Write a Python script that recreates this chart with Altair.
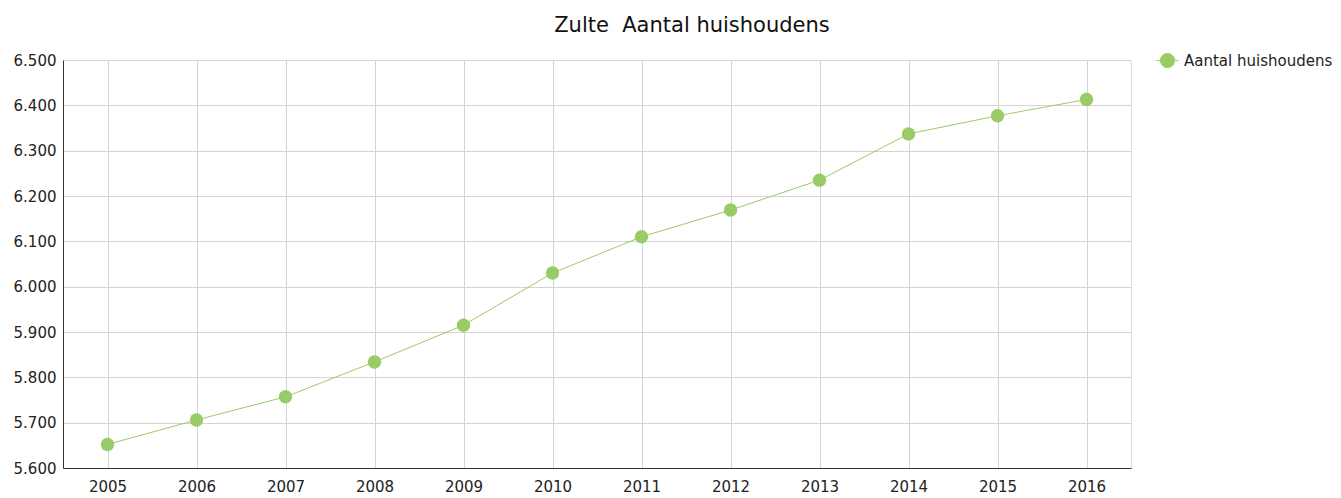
import altair as alt
import pandas as pd

years = ["2005", "2006", "2007", "2008", "2009", "2010", "2011", "2012", "2013", "2014", "2015", "2016"]
households = [5652, 5706, 5757, 5834, 5915, 6030, 6110, 6169, 6235, 6337, 6377, 6413]
series_name = "Aantal huishoudens"
y_ticks = [5600, 5700, 5800, 5900, 6000, 6100, 6200, 6300, 6400, 6500]

df = pd.DataFrame({"jaar": years, "waarde": households, "reeks": [series_name] * len(years)})

green = "#99cc66"
font = "DejaVu Sans"

legend_symbol = "M-1,0L-0.64,0M0.64,0L1,0M0.64,0A0.64,0.64,0,1,1,-0.64,0A0.64,0.64,0,1,1,0.64,0Z"

base = alt.Chart(df).encode(
    x=alt.X("jaar:O", sort=years, title=None,
            scale=alt.Scale(type="point", padding=0.5),
            axis=alt.Axis(labelAngle=0, grid=True, gridColor="#d4d4d4", domainColor="#333333",
                          ticks=False, labelPadding=11, labelFontSize=15, labelFont=font,
                          labelColor="#222222")),
    y=alt.Y("waarde:Q", title=None,
            scale=alt.Scale(domain=[5600, 6500], nice=False, zero=False),
            axis=alt.Axis(values=y_ticks, grid=True, gridColor="#d4d4d4", domainColor="#333333",
                          ticks=False, labelPadding=7, labelFontSize=15, labelFont=font,
                          labelColor="#222222",
                          labelExpr="replace(format(datum.value, ',.0f'), ',', '.')")),
    color=alt.Color("reeks:N", scale=alt.Scale(domain=[series_name], range=[green]),
                    legend=alt.Legend(title=None, orient="none", legendX=1093, legendY=-11,
                                      labelFont=font, labelFontSize=15, labelColor="#222222",
                                      labelOffset=5,
                                      symbolType=legend_symbol, symbolSize=484,
                                      symbolStrokeWidth=1, symbolStrokeColor=green,
                                      symbolFillColor=green)),
)

line = base.mark_line(strokeWidth=1, color=green)
points = base.mark_point(filled=True, size=180, opacity=1, color=green)

chart = (line + points).properties(
    width=1068, height=408,
    title=alt.TitleParams("Zulte\u00a0 Aantal huishoudens", font=font, fontSize=21, fontWeight="normal",
                          color="#111111", anchor="middle", dx=95, offset=13),
    autosize=alt.AutoSizeParams(type="none"),
    padding={"left": 55, "top": 52, "right": 202, "bottom": 30},
).configure_view(stroke=None).configure(background="white")

chart.save("out.html", embed_options={"renderer": "svg", "actions": False})
